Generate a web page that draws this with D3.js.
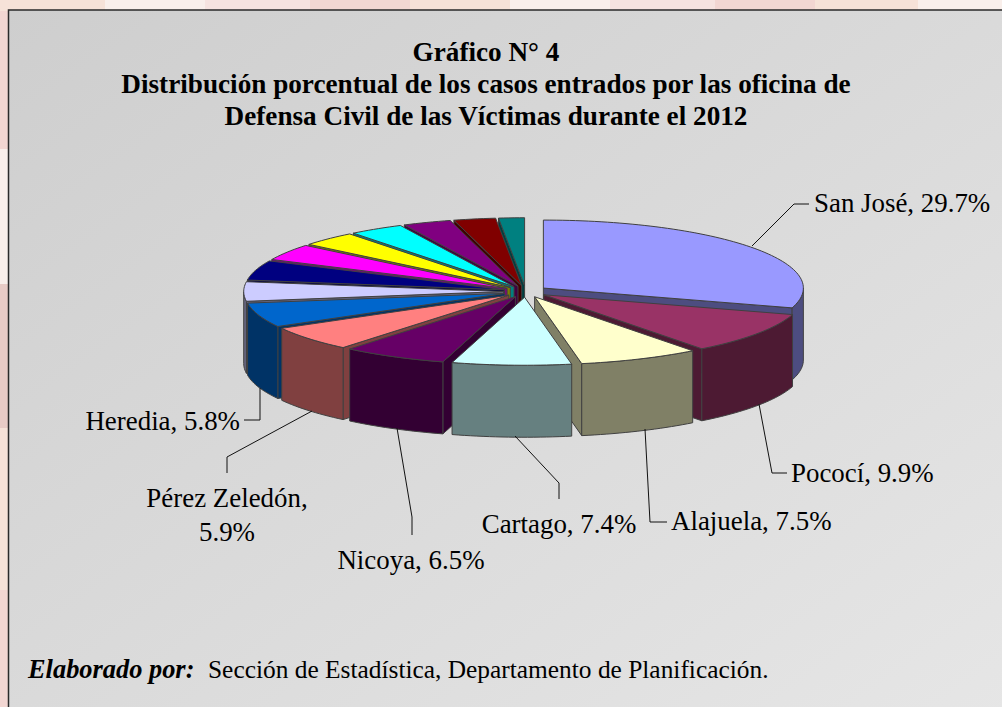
<!DOCTYPE html>
<html>
<head>
<meta charset="utf-8">
<script src="https://cdn.jsdelivr.net/npm/d3@7"></script>
<style>
    html, body { margin: 0; padding: 0; background: #fff; overflow: hidden; }
    text { font-family: "Liberation Serif", serif; fill: #000; }
</style>
</head>
<body>
<div id="chart"></div>
<script>
// Datos
var categories = ["San José", "Pococí", "Alajuela", "Cartago", "Nicoya", "Pérez Zeledón", "Heredia",
    "Otro 1", "Otro 2", "Otro 3", "Otro 4", "Otro 5", "Otro 6", "Otro 7", "Otro 8"];
var values = [29.7, 9.9, 7.5, 7.4, 6.5, 5.9, 5.8, 4.6, 4.7, 3.9, 3.5, 3.4, 3.0, 2.6, 1.6];
var topColors = ["#9999ff", "#993366", "#ffffcc", "#ccffff", "#660066", "#ff8080", "#0066cc",
    "#ccccff", "#000080", "#ff00ff", "#ffff00", "#00ffff", "#800080", "#800000", "#008080"];
var titleLines = ["Gráfico N° 4",
    "Distribución porcentual de los casos entrados por las oficina de",
    "Defensa Civil de las Víctimas durante el 2012"];

// Etiquetas: lineas de texto y quiebres de la linea guia
var labelLines = [["San José, 29.7%"], ["Pococí, 9.9%"], ["Alajuela, 7.5%"], ["Cartago, 7.4%"],
    ["Nicoya, 6.5%"], ["Pérez Zeledón,", "5.9%"], ["Heredia, 5.8%"]];
var labelAnchor = ["start", "start", "start", "middle", "middle", "middle", "end"];
var labelPos = [[814, 212], [791, 482], [671, 530], [559, 533], [411, 569], [227, 507], [240, 430]];
var leaderPts = [
    [[752, 246], [794, 204], [809, 204]],
    [[759, 404], [772, 473], [787, 473]],
    [[645, 429], [650, 522], [667, 522]],
    [[515, 436], [559, 483], [559, 499]],
    [[397, 428], [412, 517], [412, 535]],
    [[312, 411], [227, 457], [227, 473]],
    [[260, 388], [260, 420], [244, 420]]
];

// Franjas del fondo de la pagina (arriba e izquierda)
var bandColors = ["#f6e2d8", "#f9efeb", "#f6e3e0", "#f2d6d2"];
var topBands = [0, 105, 205, 310, 410, 510, 610, 715, 815, 918, 1002];
var leftBands = [0, 149, 284, 428, 590, 707];
var leftColors = ["#f2d6d2", "#f9efeb", "#e8cbc6", "#f6e2d8", "#f2d6d2"];

var width = 1002, height = 707;

var svg = d3.select("#chart").append("svg")
    .attr("width", width)
    .attr("height", height);

// Fondo
var defs = svg.append("defs");
var grad = defs.append("linearGradient")
    .attr("id", "panelGrad")
    .attr("x1", "0").attr("y1", "0").attr("x2", "1").attr("y2", "1");
grad.append("stop").attr("offset", "0").attr("stop-color", "#cecece");
grad.append("stop").attr("offset", "1").attr("stop-color", "#e6e6e6");

leftColors.forEach(function(c, i) {
    svg.append("rect")
        .attr("x", 0).attr("y", leftBands[i])
        .attr("width", 10).attr("height", leftBands[i + 1] - leftBands[i])
        .attr("fill", c);
});
d3.range(topBands.length - 1).forEach(function(i) {
    svg.append("rect")
        .attr("x", topBands[i]).attr("y", 0)
        .attr("width", topBands[i + 1] - topBands[i]).attr("height", 11)
        .attr("fill", bandColors[i % 4]);
});

svg.append("rect")
    .attr("x", 8.5).attr("y", 10)
    .attr("width", width).attr("height", height)
    .attr("fill", "url(#panelGrad)")
    .attr("stroke", "#2a2a2a")
    .attr("stroke-width", 1.5);

// Titulo
svg.append("g").selectAll("text")
    .data(titleLines)
    .enter().append("text")
    .attr("x", 486)
    .attr("y", (d, i) => 61 + i * 32)
    .attr("text-anchor", "middle")
    .attr("font-size", "27.2px")
    .attr("font-weight", "bold")
    .text(d => d);

// Pastel 3D
var cx = 525.7, cy = 291.5;
var rx = d3.scaleLinear().domain([0, 1]).range([0, 260]);
var ry = d3.scaleLinear().domain([0, 1]).range([0, 68]);
var depth = 72;
var explode = 0.0846;

var pie = d3.pie().sort(null).value(d => d);
var arcs = pie(values);

// Punto de la elipse (angulo desde arriba, sentido horario)
function point(slice, angle, r, z) {
    var mid = (slice.startAngle + slice.endAngle) / 2;
    return [
        cx + rx(explode) * Math.sin(mid) + rx(r) * Math.sin(angle),
        cy - ry(explode) * Math.cos(mid) - ry(r) * Math.cos(angle) + z
    ];
}

var line = d3.line();

function rimPoints(slice, a0, a1, z) {
    var n = Math.max(2, Math.ceil((a1 - a0) * 40));
    return d3.range(n + 1).map(i => point(slice, a0 + (a1 - a0) * i / n, 1, z));
}

// Se dibuja de atras hacia adelante
var order = d3.range(arcs.length).sort((a, b) => {
    var ma = (arcs[a].startAngle + arcs[a].endAngle) / 2;
    var mb = (arcs[b].startAngle + arcs[b].endAngle) / 2;
    return d3.ascending(-Math.cos(ma), -Math.cos(mb));
});

var pieG = svg.append("g")
    .attr("stroke", "#404040")
    .attr("stroke-width", 1)
    .attr("stroke-linejoin", "round");

order.forEach(function(i) {
    var s = arcs[i];
    var g = pieG.append("g");
    var sideColor = d3.rgb(topColors[i]);
    sideColor = d3.rgb(sideColor.r / 2, sideColor.g / 2, sideColor.b / 2).toString();

    // Pared radial
    var wallAngles = [];
    if (Math.sin(s.startAngle) < 0) wallAngles.push(s.startAngle);
    if (Math.sin(s.endAngle) > 0) wallAngles.push(s.endAngle);
    wallAngles.forEach(function(a) {
        g.append("path")
            .attr("fill", sideColor)
            .attr("d", line([point(s, a, 0, 0), point(s, a, 1, 0), point(s, a, 1, depth), point(s, a, 0, depth)]) + "Z");
    });

    // Pared exterior (solo la mitad de adelante)
    var a0 = Math.max(s.startAngle, Math.PI / 2);
    var a1 = Math.min(s.endAngle, Math.PI * 1.5);
    if (a1 > a0) {
        var outer = rimPoints(s, a0, a1, 0).concat(rimPoints(s, a0, a1, depth).reverse());
        g.append("path")
            .attr("fill", sideColor)
            .attr("d", line(outer) + "Z");
    }

    // Cara superior
    var top = [point(s, 0, 0, 0)].concat(rimPoints(s, s.startAngle, s.endAngle, 0));
    g.append("path")
        .attr("fill", topColors[i])
        .attr("d", line(top) + "Z");
});

// Lineas guia
svg.append("g").selectAll("path")
    .data(leaderPts)
    .enter().append("path")
    .attr("fill", "none")
    .attr("stroke", "#111")
    .attr("stroke-width", 1)
    .attr("d", d => line(d));

// Etiquetas
labelLines.forEach(function(lines, k) {
    lines.forEach(function(txt, j) {
        svg.append("text")
            .attr("x", labelPos[k][0])
            .attr("y", labelPos[k][1] + j * 34)
            .attr("text-anchor", labelAnchor[k])
            .attr("font-size", "26.9px")
            .text(txt);
    });
});

// Pie de pagina
var foot = svg.append("text")
    .attr("x", 28)
    .attr("y", 678);
foot.append("tspan").attr("font-weight", "bold").attr("font-style", "italic").attr("font-size", "26.4px").text("Elaborado por:");
foot.append("tspan").attr("x", 208).attr("font-size", "25.4px").text("Sección de Estadística, Departamento de Planificación.");
</script>
</body>
</html>
